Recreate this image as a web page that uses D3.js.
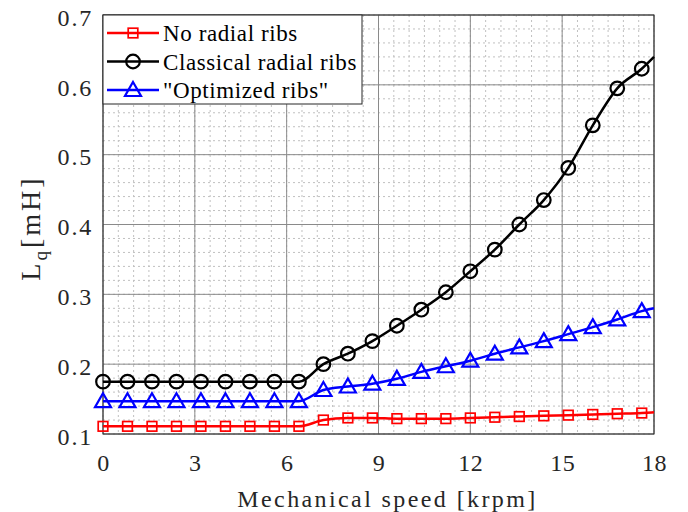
<!DOCTYPE html>
<html lang="en">
<head>
  <meta charset="UTF-8">
  <title>Lq vs mechanical speed</title>
  <script src="https://d3js.org/d3.v7.min.js"></script>
  <style>
    body { margin: 0; background: #fff; }
    svg text { font-family: "Liberation Serif", "Times New Roman", "DejaVu Serif", serif; }
  </style>
</head>
<body>
<svg id="chart" width="688" height="512"></svg>
<script>
// speed in krpm (last point is the curve end, drawn without a marker)
const speed = [0, 0.8, 1.6, 2.4, 3.2, 4.0, 4.8, 5.6, 6.4, 7.2, 8.0, 8.8, 9.6, 10.4, 11.2, 12.0, 12.8, 13.6, 14.4, 15.2, 16.0, 16.8, 17.6, 18];

const noRibs = [0.111, 0.111, 0.111, 0.111, 0.111, 0.111, 0.111, 0.111, 0.111, 0.120, 0.123, 0.123, 0.122, 0.122, 0.122, 0.123, 0.124, 0.125, 0.126, 0.127, 0.128, 0.129, 0.130, 0.131];
const classicalRibs = [0.175, 0.175, 0.175, 0.175, 0.175, 0.175, 0.175, 0.175, 0.175, 0.200, 0.215, 0.233, 0.255, 0.278, 0.303, 0.333, 0.364, 0.400, 0.435, 0.481, 0.542, 0.595, 0.623, 0.640];
const optimizedRibs = [0.147, 0.147, 0.147, 0.147, 0.147, 0.147, 0.147, 0.147, 0.147, 0.163, 0.168, 0.172, 0.179, 0.189, 0.197, 0.205, 0.215, 0.224, 0.233, 0.243, 0.253, 0.264, 0.276, 0.280];

const xTicks = [0, 3, 6, 9, 12, 15, 18];
const yTicks = [0.1, 0.2, 0.3, 0.4, 0.5, 0.6, 0.7];

const seriesNames = ["No radial ribs", "Classical radial ribs", "\"Optimized ribs\""];

const series = [
  {name: seriesNames[0], values: noRibs, color: "#ff0000", marker: "square"},
  {name: seriesNames[1], values: classicalRibs, color: "#000000", marker: "circle"},
  {name: seriesNames[2], values: optimizedRibs, color: "#0000ff", marker: "triangle"}
];

const svg = d3.select("#chart");
const margin = {top: 15, right: 34, bottom: 78, left: 103};
const width = 688 - margin.left - margin.right,
      height = 512 - margin.top - margin.bottom;

const x = d3.scaleLinear().domain([0, 18]).range([0, width]);
const y = d3.scaleLinear().domain([0.1, 0.7]).range([height, 0]);

const g = svg.append("g").attr("transform", `translate(${margin.left},${margin.top})`);

// minor grid (dotted)
const xMinor = d3.range(0, 18.001, 0.5);
const yMinor = d3.range(0.1, 0.7001, 0.02);
g.append("g").selectAll("line").data(xMinor).enter().append("line")
  .attr("x1", d => x(d)).attr("x2", d => x(d)).attr("y1", 0).attr("y2", height)
  .attr("stroke", "#c0c0c0").attr("stroke-width", 1).attr("stroke-dasharray", "2,3");
g.append("g").selectAll("line").data(yMinor).enter().append("line")
  .attr("y1", d => y(d)).attr("y2", d => y(d)).attr("x1", 0).attr("x2", width)
  .attr("stroke", "#c0c0c0").attr("stroke-width", 1).attr("stroke-dasharray", "2,3");

// major grid
g.append("g").selectAll("line").data(xTicks).enter().append("line")
  .attr("x1", d => x(d)).attr("x2", d => x(d)).attr("y1", 0).attr("y2", height)
  .attr("stroke", "#8a8a8a").attr("stroke-width", 1);
g.append("g").selectAll("line").data(yTicks).enter().append("line")
  .attr("y1", d => y(d)).attr("y2", d => y(d)).attr("x1", 0).attr("x2", width)
  .attr("stroke", "#8a8a8a").attr("stroke-width", 1);

// axes (labels only, box drawn separately)
const xAxis = g.append("g").attr("transform", `translate(0,${height})`)
  .call(d3.axisBottom(x).tickValues(xTicks).tickSize(0).tickPadding(20).tickFormat(d3.format("d")));
const yAxis = g.append("g")
  .call(d3.axisLeft(y).tickValues(yTicks).tickSize(0).tickPadding(10).tickFormat(d3.format(".1f")));
[xAxis, yAxis].forEach(a => {
  a.attr("font-family", null).attr("font-size", 24);
  a.select(".domain").remove();
  a.selectAll("text").attr("fill", "#262626");
});
xAxis.selectAll("text").style("letter-spacing", "0.5px");
yAxis.selectAll("text").attr("dy", "0.43em").style("letter-spacing", "1.8px");

g.append("rect").attr("width", width).attr("height", height)
  .attr("fill", "none").attr("stroke", "#262626").attr("stroke-width", 1);

// marker drawing helper
function drawMarker(sel, type, color) {
  if (type === "square") {
    sel.append("rect").attr("x", -4.8).attr("y", -4.8).attr("width", 9.6).attr("height", 9.6)
      .attr("fill", "none").attr("stroke", color).attr("stroke-width", 1.7);
  } else if (type === "circle") {
    sel.append("circle").attr("r", 6.8)
      .attr("fill", "none").attr("stroke", color).attr("stroke-width", 2.2);
  } else {
    sel.append("path").attr("d", "M0,-8L8,6L-8,6Z")
      .attr("fill", "none").attr("stroke", color).attr("stroke-width", 2.2);
  }
}

const line = d3.line().x(d => x(d[0])).y(d => y(d[1])).curve(d3.curveMonotoneX);

series.forEach(s => {
  const pts = speed.map((v, i) => [v, s.values[i]]);
  g.append("path").datum(pts).attr("d", line)
    .attr("fill", "none").attr("stroke", s.color).attr("stroke-width", 2.5);
  g.append("g").selectAll("g").data(pts.slice(0, -1)).enter().append("g")
    .attr("transform", d => `translate(${x(d[0])},${y(d[1])})`)
    .each(function() { drawMarker(d3.select(this), s.marker, s.color); });
});

// legend
const legend = g.append("g");
legend.append("rect").attr("x", 0).attr("y", 0).attr("width", 259).attr("height", 89)
  .attr("fill", "#fff").attr("stroke", "#262626").attr("stroke-width", 1);
series.forEach((s, i) => {
  const ly = 18 + i * 28.5;
  const row = legend.append("g").attr("transform", `translate(0,${ly})`);
  row.append("line").attr("x1", 4).attr("x2", 56).attr("y1", 0).attr("y2", 0)
    .attr("stroke", s.color).attr("stroke-width", 2.5);
  drawMarker(row.append("g").attr("transform", "translate(30,0)"), s.marker, s.color);
  row.append("text").attr("x", 60).attr("y", 0).attr("dy", "0.35em")
    .attr("fill", "#000").style("font-size", "23px").style("letter-spacing", "0.6px").text(s.name);
});

// axis titles
svg.append("text").attr("x", margin.left + width / 2 + 9).attr("y", 507)
  .attr("text-anchor", "middle").attr("fill", "#262626")
  .style("font-size", "24px").style("letter-spacing", "2.4px")
  .text("Mechanical speed [krpm]");

const yl = svg.append("text").attr("transform", "translate(40,228) rotate(-90)")
  .attr("text-anchor", "middle").attr("fill", "#262626")
  .style("font-size", "28px").style("letter-spacing", "3px");
yl.append("tspan").text("L");
yl.append("tspan").attr("dy", 7).style("font-size", "19px").text("q");
yl.append("tspan").attr("dy", -7).text("[mH]");
</script>
</body>
</html>
